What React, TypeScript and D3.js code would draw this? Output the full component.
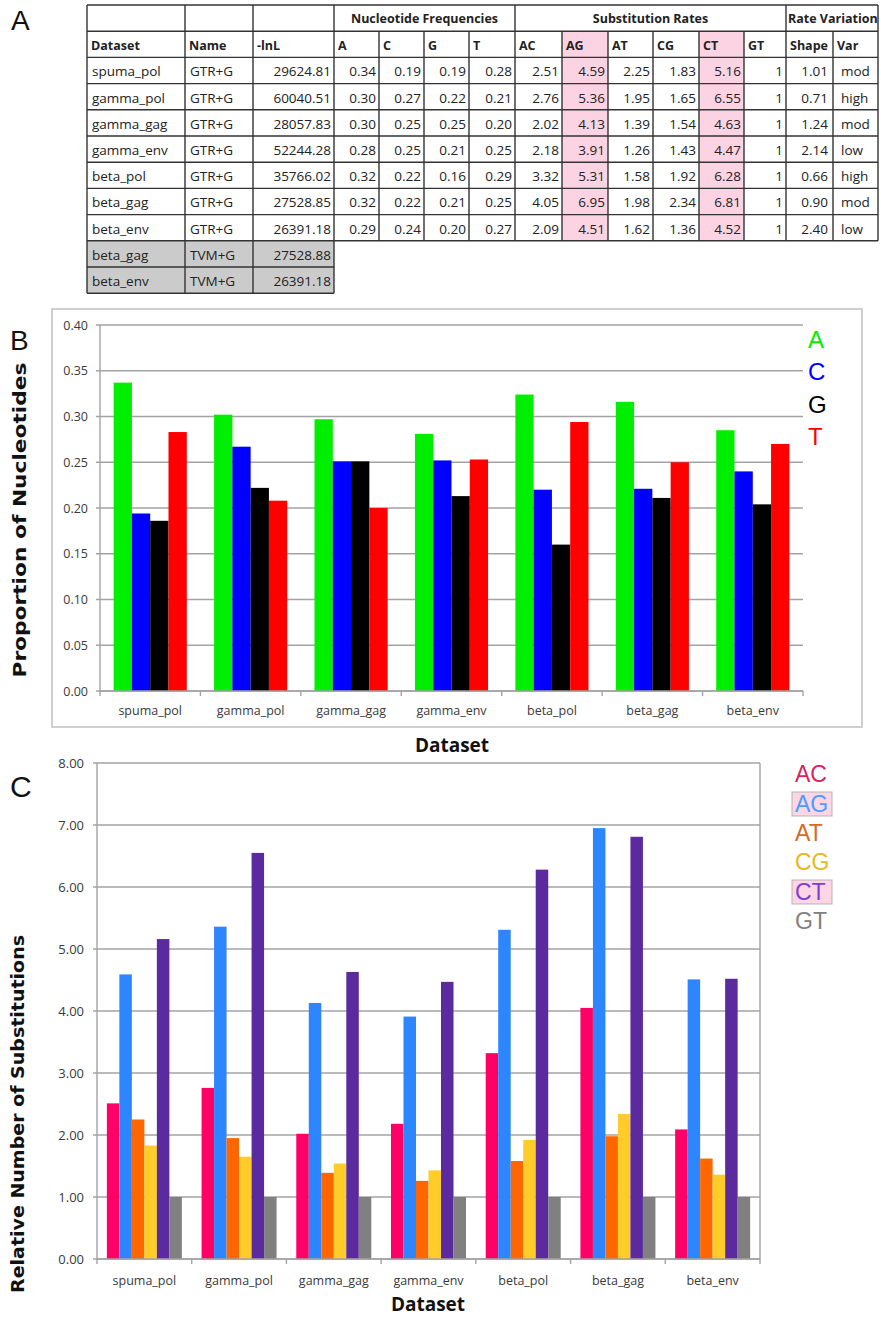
import React from 'react';
import * as d3 from 'd3';

// ---------- Data ----------
const datasets = ['spuma_pol', 'gamma_pol', 'gamma_gag', 'gamma_env', 'beta_pol', 'beta_gag', 'beta_env'];
const modelNames = ['GTR+G', 'GTR+G', 'GTR+G', 'GTR+G', 'GTR+G', 'GTR+G', 'GTR+G'];
const lnL = ['29624.81', '60040.51', '28057.83', '52244.28', '35766.02', '27528.85', '26391.18'];
const freqA = [0.34, 0.30, 0.30, 0.28, 0.32, 0.32, 0.29];
const freqC = [0.19, 0.27, 0.25, 0.25, 0.22, 0.22, 0.24];
const freqG = [0.19, 0.22, 0.25, 0.21, 0.16, 0.21, 0.20];
const freqT = [0.28, 0.21, 0.20, 0.25, 0.29, 0.25, 0.27];
const rateAC = [2.51, 2.76, 2.02, 2.18, 3.32, 4.05, 2.09];
const rateAG = [4.59, 5.36, 4.13, 3.91, 5.31, 6.95, 4.51];
const rateAT = [2.25, 1.95, 1.39, 1.26, 1.58, 1.98, 1.62];
const rateCG = [1.83, 1.65, 1.54, 1.43, 1.92, 2.34, 1.36];
const rateCT = [5.16, 6.55, 4.63, 4.47, 6.28, 6.81, 4.52];
const rateGT = [1, 1, 1, 1, 1, 1, 1];
const shapeParam = [1.01, 0.71, 1.24, 2.14, 0.66, 0.90, 2.40];
const variation = ['mod', 'high', 'mod', 'low', 'high', 'mod', 'low'];
const extraDatasets = ['beta_gag', 'beta_env'];
const extraNames = ['TVM+G', 'TVM+G'];
const extraLnL = ['27528.88', '26391.18'];

const headerLabels = ['Dataset', 'Name', '-lnL', 'A', 'C', 'G', 'T', 'AC', 'AG', 'AT', 'CG', 'CT', 'GT', 'Shape', 'Var'];

// Panel B: proportions
const nucleotides = ['A', 'C', 'G', 'T'];
const propA = [0.337, 0.302, 0.297, 0.281, 0.324, 0.316, 0.285];
const propC = [0.194, 0.267, 0.251, 0.252, 0.220, 0.221, 0.240];
const propG = [0.186, 0.222, 0.251, 0.213, 0.160, 0.211, 0.204];
const propT = [0.283, 0.208, 0.200, 0.253, 0.294, 0.250, 0.270];
const bTicks = [0, 0.05, 0.1, 0.15, 0.2, 0.25, 0.3, 0.35, 0.4];

// Panel C
const substitutions = ['AC', 'AG', 'AT', 'CG', 'CT', 'GT'];
const cTicks = [0, 1, 2, 3, 4, 5, 6, 7, 8];

// ---------- Styles ----------
const nucColors = ['#00ee00', '#0000ff', '#000000', '#ff0000'];
const subColors = ['#ff0066', '#2e86ff', '#ff6600', '#ffcc29', '#5b2a9e', '#808080'];
const subLegendColors = ['#d9245f', '#4d9dff', '#d8691e', '#e6b81c', '#7b3fd8', '#808080'];
const tableFont = "'Open Sans', sans-serif";
const gridColor = '#a3a3a3';
const tickTextColor = '#3a3a3a';

function Table() {
  const colX = [87, 185, 253, 334, 379, 424, 469, 515, 562, 608, 653, 699, 744, 786, 833, 878];
  const rowH = 26.2;
  const top = 5;
  const rowY = d3.range(12).map((i) => top + i * rowH);
  const nMain = 2 + datasets.length; // header rows + data rows
  const cells: any[] = [];
  const lineColor = '#333';
  const fs = 13.5;

  // pink highlight columns AG (8) CT (11)
  [8, 11].forEach((c) => {
    cells.push(
      <rect key={'pink' + c} x={colX[c]} y={rowY[1]} width={colX[c + 1] - colX[c]} height={rowY[nMain] - rowY[1]} fill="#fbd3e2" />
    );
  });
  // grey rows
  extraDatasets.forEach((_, i) => {
    cells.push(
      <rect key={'grey' + i} x={colX[0]} y={rowY[nMain + i]} width={colX[3] - colX[0]} height={rowH} fill="#cbcbcb" />
    );
  });

  // top header group labels
  const groups = [
    { label: 'Nucleotide Frequencies', c0: 3, c1: 7, anchor: 'middle' },
    { label: 'Substitution Rates', c0: 7, c1: 13, anchor: 'middle' },
    { label: 'Rate Variation', c0: 13, c1: 15, anchor: 'start' },
  ];
  groups.forEach((g) => {
    const x = g.anchor === 'middle' ? (colX[g.c0] + colX[g.c1]) / 2 : colX[g.c0] + 2;
    cells.push(
      <text key={'g' + g.label} x={x} y={rowY[0] + 18} textAnchor={g.anchor as any} fontFamily={tableFont} fontWeight="bold" fontSize={12.5} fill="#222">
        {g.label}
      </text>
    );
  });
  headerLabels.forEach((h, c) => {
    cells.push(
      <text key={'h' + c} x={colX[c] + 4} y={rowY[1] + 19} fontFamily={tableFont} fontWeight="bold" fontSize={12.5} fill="#222">
        {h}
      </text>
    );
  });

  datasets.forEach((ds, r) => {
    const y = rowY[2 + r] + 19;
    const vals: [string, string][] = [
      [ds, 'left'],
      [modelNames[r], 'left'],
      [lnL[r], 'right'],
      [freqA[r].toFixed(2), 'right'],
      [freqC[r].toFixed(2), 'right'],
      [freqG[r].toFixed(2), 'right'],
      [freqT[r].toFixed(2), 'right'],
      [rateAC[r].toFixed(2), 'right'],
      [rateAG[r].toFixed(2), 'right'],
      [rateAT[r].toFixed(2), 'right'],
      [rateCG[r].toFixed(2), 'right'],
      [rateCT[r].toFixed(2), 'right'],
      [String(rateGT[r]), 'right'],
      [shapeParam[r].toFixed(2), 'shape'],
      [variation[r], 'var'],
    ];
    vals.forEach(([v, al], c) => {
      let x = colX[c] + 5;
      let anchor = 'start';
      if (al === 'right') {
        x = colX[c + 1] - 3;
        anchor = 'end';
      } else if (al === 'shape') {
        x = colX[c + 1] - 5;
        anchor = 'end';
      } else if (al === 'var') {
        x = colX[c] + 8;
      }
      cells.push(
        <text key={'d' + r + '_' + c} x={x} y={y} textAnchor={anchor as any} fontFamily={tableFont} fontSize={fs} fill="#222">
          {v}
        </text>
      );
    });
  });
  extraDatasets.forEach((ds, i) => {
    const y = rowY[nMain + i] + 19;
    cells.push(
      <text key={'e0' + i} x={colX[0] + 5} y={y} fontFamily={tableFont} fontSize={fs} fill="#222">{ds}</text>,
      <text key={'e1' + i} x={colX[1] + 5} y={y} fontFamily={tableFont} fontSize={fs} fill="#222">{extraNames[i]}</text>,
      <text key={'e2' + i} x={colX[3] - 3} y={y} textAnchor="end" fontFamily={tableFont} fontSize={fs} fill="#222">{extraLnL[i]}</text>
    );
  });

  // lines
  const lines: any[] = [];
  for (let i = 0; i <= nMain; i++) {
    lines.push(<line key={'hl' + i} x1={colX[0]} x2={colX[15]} y1={rowY[i]} y2={rowY[i]} stroke={lineColor} strokeWidth={1.4} />);
  }
  for (let i = nMain + 1; i <= nMain + 2; i++) {
    lines.push(<line key={'hl' + i} x1={colX[0]} x2={colX[3]} y1={rowY[i]} y2={rowY[i]} stroke={lineColor} strokeWidth={1.4} />);
  }
  colX.forEach((x, c) => {
    if (c <= 3) {
      lines.push(<line key={'vl' + c} x1={x} x2={x} y1={rowY[0]} y2={rowY[nMain + 2]} stroke={lineColor} strokeWidth={1.4} />);
    } else {
      const fullTop = c === 7 || c === 13 || c === 15;
      lines.push(<line key={'vl' + c} x1={x} x2={x} y1={fullTop ? rowY[0] : rowY[1]} y2={rowY[nMain]} stroke={lineColor} strokeWidth={1.4} />);
    }
  });

  return (
    <g>
      {cells}
      {lines}
    </g>
  );
}

function PanelB() {
  const x = d3.scaleBand().domain(datasets).range([100, 803]);
  const y = d3.scaleLinear().domain([0, 0.4]).range([691, 325]);
  const pad = x.bandwidth() * 0.136;
  const inner = d3.scaleBand().domain(nucleotides).range([pad, x.bandwidth() - pad]);
  const series = [propA, propC, propG, propT];
  const legendY = [348, 380, 413, 445];
  return (
    <g>
      <rect x={52} y={309} width={810} height={418} fill="none" stroke="#c4c4c4" strokeWidth={1.6} />
      {bTicks.map((t) => (
        <g key={t}>
          <line x1={96} x2={803} y1={y(t)} y2={y(t)} stroke={gridColor} strokeWidth={1.4} />
          <text x={88} y={y(t) + 4.5} textAnchor="end" fontFamily={tableFont} fontSize={12.5} fill={tickTextColor}>
            {t.toFixed(2)}
          </text>
        </g>
      ))}
      {series.map((vals, si) =>
        datasets.map((ds, i) => (
          <rect
            key={ds + si}
            x={(x(ds) as number) + (inner(nucleotides[si]) as number)}
            y={y(vals[i])}
            width={inner.bandwidth()}
            height={y(0) - y(vals[i])}
            fill={nucColors[si]}
          />
        ))
      )}
      <line x1={100} x2={100} y1={y(0.4)} y2={y(0)} stroke={gridColor} strokeWidth={1.4} />
      <line x1={100} x2={803} y1={y(0)} y2={y(0)} stroke={gridColor} strokeWidth={1.4} />
      {datasets.concat(['end']).map((ds, i) => {
        const xx = i < datasets.length ? (x(ds) as number) : 803;
        return <line key={'tk' + i} x1={xx} x2={xx} y1={y(0)} y2={y(0) + 5} stroke={gridColor} strokeWidth={1.4} />;
      })}
      {datasets.map((ds) => (
        <text key={'lb' + ds} x={(x(ds) as number) + x.bandwidth() / 2} y={715} textAnchor="middle" fontFamily={tableFont} fontSize={12.5} fill={tickTextColor}>
          {ds}
        </text>
      ))}
      <text x={452} y={752} textAnchor="middle" fontFamily={tableFont} fontWeight="bold" fontSize={19} fill="#111">
        Dataset
      </text>
      <text
        transform={`translate(26,520) rotate(-90)`}
        textAnchor="middle"
        fontFamily="'DejaVu Sans', sans-serif"
        fontWeight="bold"
        fontSize={18}
        textLength={315}
        lengthAdjust="spacingAndGlyphs"
        fill="#111"
      >
        Proportion of Nucleotides
      </text>
      {nucleotides.map((n, i) => (
        <text key={'lg' + n} x={808} y={legendY[i]} fontFamily="'Liberation Sans', Arial, sans-serif" fontSize={24} fill={nucColors[i]}>
          {n}
        </text>
      ))}
    </g>
  );
}

function PanelC() {
  const x = d3.scaleBand().domain(datasets).range([97, 760]);
  const y = d3.scaleLinear().domain([0, 8]).range([1259, 763]);
  const pad = x.bandwidth() * 0.104;
  const inner = d3.scaleBand().domain(substitutions).range([pad, x.bandwidth() - pad]);
  const series = [rateAC, rateAG, rateAT, rateCG, rateCT, rateGT];
  const legendY = [782, 812, 841, 870, 900, 929];
  const boxed = ['AG', 'CT'];
  return (
    <g>
      {cTicks.map((t) => (
        <g key={t}>
          <line x1={93} x2={760} y1={y(t)} y2={y(t)} stroke={gridColor} strokeWidth={1.4} />
          <text x={84} y={y(t) + 4.5} textAnchor="end" fontFamily={tableFont} fontSize={13} fill={tickTextColor}>
            {t.toFixed(2)}
          </text>
        </g>
      ))}
      <line x1={760} x2={760} y1={y(8)} y2={y(0)} stroke={gridColor} strokeWidth={1.4} />
      {series.map((vals, si) =>
        datasets.map((ds, i) => (
          <rect
            key={ds + si}
            x={(x(ds) as number) + (inner(substitutions[si]) as number)}
            y={y(vals[i])}
            width={inner.bandwidth()}
            height={y(0) - y(vals[i])}
            fill={subColors[si]}
          />
        ))
      )}
      <line x1={97} x2={97} y1={y(8)} y2={y(0)} stroke={gridColor} strokeWidth={1.4} />
      <line x1={97} x2={760} y1={y(0)} y2={y(0)} stroke={gridColor} strokeWidth={1.4} />
      {datasets.concat(['end']).map((ds, i) => {
        const xx = i < datasets.length ? (x(ds) as number) : 760;
        return <line key={'tk' + i} x1={xx} x2={xx} y1={y(0)} y2={y(0) + 5} stroke={gridColor} strokeWidth={1.4} />;
      })}
      {datasets.map((ds) => (
        <text key={'lb' + ds} x={(x(ds) as number) + x.bandwidth() / 2} y={1285} textAnchor="middle" fontFamily={tableFont} fontSize={12.5} fill={tickTextColor}>
          {ds}
        </text>
      ))}
      <text x={428} y={1311} textAnchor="middle" fontFamily={tableFont} fontWeight="bold" fontSize={19} fill="#111">
        Dataset
      </text>
      <text
        transform={`translate(24,1114) rotate(-90)`}
        textAnchor="middle"
        fontFamily="'DejaVu Sans', sans-serif"
        fontWeight="bold"
        fontSize={18}
        textLength={358}
        lengthAdjust="spacingAndGlyphs"
        fill="#111"
      >
        Relative Number of Substitutions
      </text>
      {substitutions.map((s, i) => (
        <g key={'lg' + s}>
          {boxed.includes(s) && (
            <rect x={792} y={legendY[i] - 20} width={40} height={24} fill="#fcd6e4" stroke="#b5b5b5" strokeWidth={1} />
          )}
          <text x={795} y={legendY[i]} fontFamily="'Liberation Sans', Arial, sans-serif" fontSize={23} fill={subLegendColors[i]}>
            {s}
          </text>
        </g>
      ))}
    </g>
  );
}

export default function App() {
  return (
    <div style={{ position: 'absolute', left: 0, top: 0 }}>
      <svg width={881} height={1317} viewBox="0 0 881 1317" style={{ display: 'block', background: '#fff' }}>
        <rect x={0} y={0} width={881} height={1317} fill="#fff" />
        <text x={11} y={30} fontFamily="'Liberation Sans', Arial, sans-serif" fontSize={28} fill="#111">A</text>
        <text x={10} y={350} fontFamily="'Liberation Sans', Arial, sans-serif" fontSize={28} fill="#111">B</text>
        <text x={10} y={797} fontFamily="'Liberation Sans', Arial, sans-serif" fontSize={30} fill="#111">C</text>
        <Table />
        <PanelB />
        <PanelC />
      </svg>
    </div>
  );
}
